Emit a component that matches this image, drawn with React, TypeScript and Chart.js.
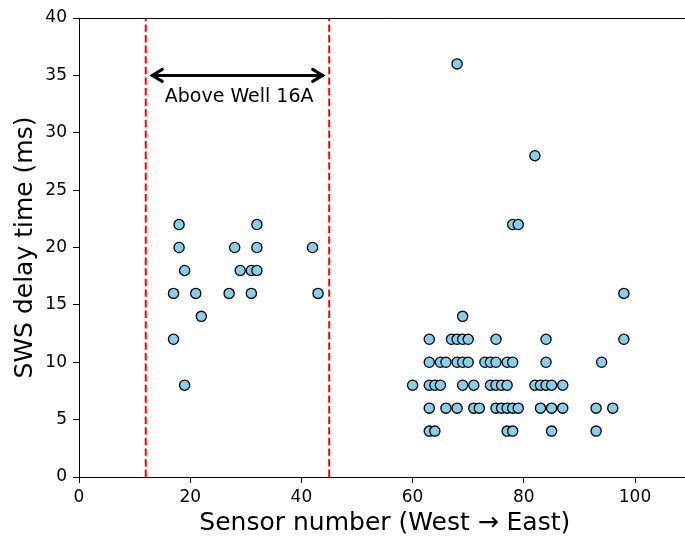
import React, { useEffect, useRef } from "react";
import { Chart, registerables } from "chart.js";

Chart.register(...registerables);

// ---- data ----
const westSensors = [18, 32, 18, 28, 32, 42, 19, 29, 31, 32, 17, 21, 27, 31, 43, 22, 17, 19];
const westDelays = [22, 22, 20, 20, 20, 20, 18, 18, 18, 18, 16, 16, 16, 16, 16, 14, 12, 8];

const eastSensors = [
  68,
  82,
  78, 79,
  98,
  69,
  63, 67, 68, 69, 70, 75, 84, 98,
  63, 65, 66, 68, 69, 70, 73, 74, 75, 77, 78, 84, 94,
  60, 63, 64, 65, 69, 71, 74, 75, 76, 77, 82, 83, 84, 85, 87,
  63, 66, 68, 71, 72, 75, 76, 77, 78, 79, 83, 85, 87, 93, 96,
  63, 64, 77, 78, 85, 93,
];
const eastDelays = [
  36,
  28,
  22, 22,
  16,
  14,
  12, 12, 12, 12, 12, 12, 12, 12,
  10, 10, 10, 10, 10, 10, 10, 10, 10, 10, 10, 10, 10,
  8, 8, 8, 8, 8, 8, 8, 8, 8, 8, 8, 8, 8, 8, 8,
  6, 6, 6, 6, 6, 6, 6, 6, 6, 6, 6, 6, 6, 6, 6,
  4, 4, 4, 4, 4, 4,
];

const wellBounds = [12, 45];
const arrowEnds = [13, 44];
const arrowLevel = 35;
const labelText = "Above Well 16A";
const labelX = 28.8;
const labelY = 33.1;

const xTicks = [0, 20, 40, 60, 80, 100];
const yTicks = [0, 5, 10, 15, 20, 25, 30, 35, 40];
const xRange = [0, 110];
const yRange = [0, 40];

const xTitle = "Sensor number (West \u2192 East)";
const yTitle = "SWS delay time (ms)";

const FONT = "'DejaVu Sans', sans-serif";

const annotationPlugin = {
  id: "annot",
  afterDatasetsDraw(chart: any) {
    const { ctx, chartArea, scales } = chart;
    const xs = scales.x;
    const ys = scales.y;
    ctx.save();
    // top spine
    ctx.strokeStyle = "#000";
    ctx.lineWidth = 1;
    ctx.beginPath();
    ctx.moveTo(chartArea.left, chartArea.top + 0.5);
    ctx.lineTo(chartArea.right, chartArea.top + 0.5);
    ctx.stroke();

    // double arrow
    const x1 = xs.getPixelForValue(arrowEnds[0]);
    const x2 = xs.getPixelForValue(arrowEnds[1]);
    const y = ys.getPixelForValue(arrowLevel);
    ctx.lineWidth = 3;
    ctx.lineCap = "round";
    ctx.lineJoin = "miter";
    ctx.beginPath();
    ctx.moveTo(x1 + 1, y);
    ctx.lineTo(x2 - 1, y);
    ctx.stroke();
    const hl = 11;
    const hw = 6;
    ctx.beginPath();
    ctx.moveTo(x1 + hl, y - hw);
    ctx.lineTo(x1 + 1, y);
    ctx.lineTo(x1 + hl, y + hw);
    ctx.moveTo(x2 - hl, y - hw);
    ctx.lineTo(x2 - 1, y);
    ctx.lineTo(x2 - hl, y + hw);
    ctx.stroke();

    // label
    ctx.fillStyle = "#000";
    ctx.font = `19px ${FONT}`;
    ctx.textAlign = "center";
    ctx.textBaseline = "middle";
    ctx.fillText(labelText, xs.getPixelForValue(labelX), ys.getPixelForValue(labelY));
    ctx.restore();
  },
};

export default function App() {
  const ref = useRef<HTMLCanvasElement | null>(null);

  useEffect(() => {
    document.body.style.margin = "0";
    const canvas = ref.current;
    if (!canvas) return;

    const pointStyle = {
      pointRadius: 5.1,
      pointBackgroundColor: "#87CEEB",
      pointBorderColor: "#000",
      pointBorderWidth: 1.3,
      showLine: false,
    };

    const chart = new Chart(canvas, {
      type: "scatter",
      data: {
        datasets: [
          {
            data: [
              { x: wellBounds[0], y: yRange[0] },
              { x: wellBounds[0], y: yRange[1] },
            ],
            showLine: true,
            borderColor: "#ff0000",
            borderWidth: 2,
            borderDash: [7.4, 3.2],
            pointRadius: 0,
          },
          {
            data: [
              { x: wellBounds[1], y: yRange[0] },
              { x: wellBounds[1], y: yRange[1] },
            ],
            showLine: true,
            borderColor: "#ff0000",
            borderWidth: 2,
            borderDash: [7.4, 3.2],
            pointRadius: 0,
          },
          {
            data: westSensors.map((s, i) => ({ x: s, y: westDelays[i] })),
            ...pointStyle,
          },
          {
            data: eastSensors.map((s, i) => ({ x: s, y: eastDelays[i] })),
            ...pointStyle,
          },
        ],
      },
      options: {
        responsive: false,
        animation: false,
        devicePixelRatio: 1,
        events: [],
        layout: { padding: { top: 18, left: 0, right: 0, bottom: 0 } },
        plugins: {
          legend: { display: false },
          tooltip: { enabled: false },
        },
        scales: {
          x: {
            type: "linear",
            min: xRange[0],
            max: xRange[1],
            afterBuildTicks: (s: any) => {
              s.ticks = xTicks.map((v) => ({ value: v }));
            },
            afterFit: (s: any) => {
              s.height = 59;
            },
            grid: {
              drawOnChartArea: false,
              tickLength: 6,
              color: "#000",
              tickColor: "#000",
            },
            border: { color: "#000", width: 1 },
            ticks: {
              font: { size: 17, family: FONT },
              color: "#000",
              padding: 4,
              maxRotation: 0,
            },
            title: {
              display: true,
              text: xTitle,
              color: "#000",
              font: { size: 25, family: FONT, lineHeight: 1 },
              padding: { top: 0, bottom: 0 },
            },
          },
          y: {
            type: "linear",
            min: yRange[0],
            max: yRange[1],
            afterBuildTicks: (s: any) => {
              s.ticks = yTicks.map((v) => ({ value: v }));
            },
            afterFit: (s: any) => {
              s.width = 79;
            },
            grid: {
              drawOnChartArea: false,
              tickLength: 6,
              color: "#000",
              tickColor: "#000",
            },
            border: { color: "#000", width: 1 },
            ticks: {
              font: { size: 17, family: FONT },
              color: "#000",
              padding: 6,
            },
            title: {
              display: true,
              text: yTitle,
              color: "#000",
              font: { size: 25, family: FONT, lineHeight: 1 },
              padding: { top: 12.5, bottom: 0 },
            },
          },
        },
      },
      plugins: [annotationPlugin],
    } as any);

    return () => chart.destroy();
  }, []);

  return (
    <div style={{ width: 685, height: 536, overflow: "hidden" }}>
      <canvas ref={ref} width={697} height={536} style={{ display: "block" }} />
    </div>
  );
}
